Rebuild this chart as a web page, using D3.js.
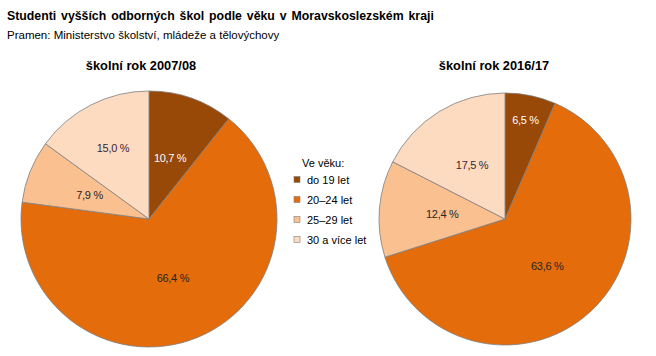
<!DOCTYPE html>
<html><head><meta charset="utf-8">
<script src="https://cdn.jsdelivr.net/npm/d3@7"></script>
<style>
body{margin:0;background:#fff;}
svg{display:block;font-family:"Liberation Sans",Arial,sans-serif;}
</style></head>
<body><svg id="c" width="656" height="356"></svg>
<script>
const categories = ["do 19 let", "20–24 let", "25–29 let", "30 a více let"];
const values2007 = [10.7, 66.4, 7.9, 15.0];
const values2016 = [6.5, 63.6, 12.4, 17.5];
const pieTitles = ["školní rok 2007/08", "školní rok 2016/17"];
const colors = ["#984807", "#e46c0a", "#fac090", "#fddbc1"];
const labelColors = ["#ffffff", "#262626", "#262626", "#3a1f33"];

const svg = d3.select("#c");
svg.append("text").attr("x", 7).attr("y", 20).attr("font-size", 12.3).attr("font-weight", "bold")
  .attr("fill", "#000").style("word-spacing", "1.5px")
  .text("Studenti vyšších odborných škol podle věku v Moravskoslezském kraji");
svg.append("text").attr("x", 7).attr("y", 39).attr("font-size", 11.5).attr("fill", "#000")
  .text("Pramen: Ministerstvo školství, mládeže a tělovýchovy");

const pies = [
  {vals: values2007, cx: 149, cy: 219, r: 128, title: pieTitles[0], tx: 141, lr: [0.5, 0.5, 0.5, 0.62]},
  {vals: values2016, cx: 505, cy: 219, r: 126, title: pieTitles[1], tx: 494, lr: [0.8, 0.5, 0.5, 0.5]}
];
const fmt = v => d3.format(".1f")(v).replace(".", ",") + " %";

pies.forEach(p => {
  svg.append("text").attr("x", p.tx).attr("y", 70).attr("text-anchor", "middle")
    .attr("font-size", 12.8).attr("font-weight", "bold").text(p.title);
  const g = svg.append("g").attr("transform", `translate(${p.cx},${p.cy})`);
  const arcs = d3.pie().sort(null).value(d => d)(p.vals);
  const arc = d3.arc().innerRadius(0).outerRadius(p.r);
  g.selectAll("path").data(arcs).join("path")
    .attr("d", arc).attr("fill", (d, i) => colors[i])
    .attr("stroke", "#7f7f7f").attr("stroke-width", 0.8);
  g.selectAll("text").data(arcs).join("text")
    .attr("transform", (d, i) => {
      const a = d3.arc().innerRadius(p.r * p.lr[i]).outerRadius(p.r * p.lr[i]);
      const c = a.centroid(d);
      return `translate(${c[0]},${c[1]})`;
    })
    .attr("text-anchor", "middle").attr("dy", "0.35em")
    .attr("font-size", 11).attr("fill", (d, i) => labelColors[i])
    .style("letter-spacing", "-0.3px")
    .text(d => fmt(d.data));
});

const lg = svg.append("g");
lg.append("text").attr("x", 302).attr("y", 167).attr("font-size", 11).text("Ve věku:");
categories.forEach((c, i) => {
  const y = 180 + i * 20;
  lg.append("rect").attr("x", 294).attr("y", y - 3.5).attr("width", 6).attr("height", 6)
    .attr("fill", colors[i]).attr("stroke", "#7f7f7f").attr("stroke-width", 0.6);
  lg.append("text").attr("x", 307).attr("y", y + 4).attr("font-size", 11).text(c);
});
</script></body></html>
